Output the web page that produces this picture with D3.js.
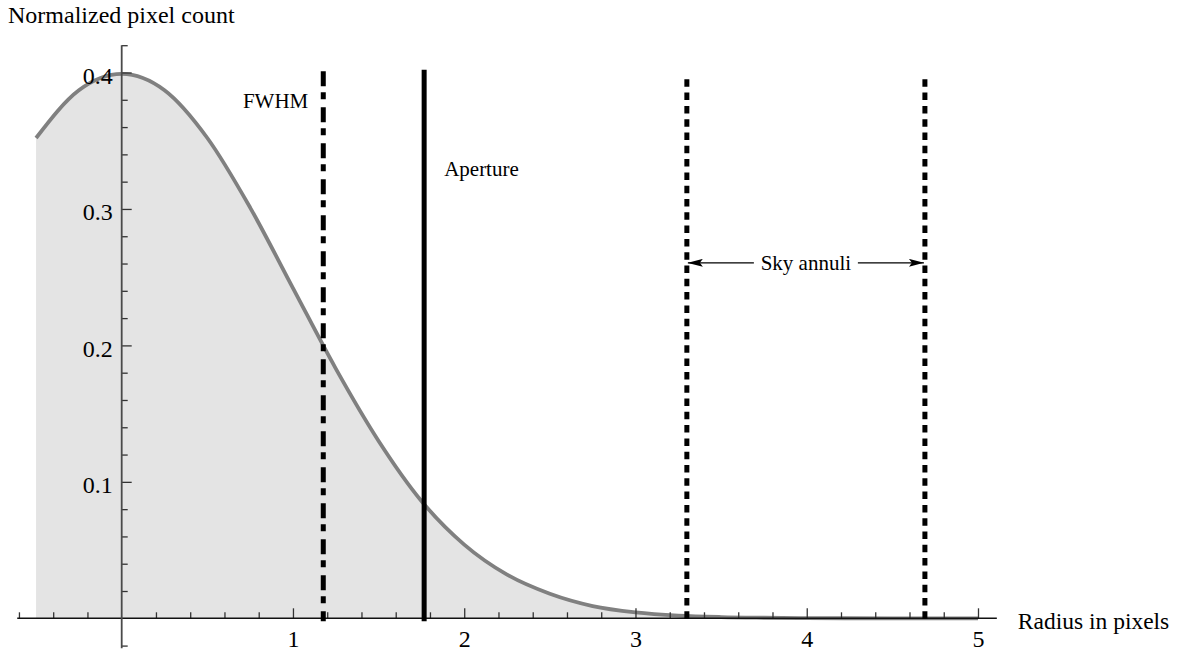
<!DOCTYPE html>
<html>
<head>
<meta charset="utf-8">
<script src="https://cdn.jsdelivr.net/npm/d3@7"></script>
<style>
  html, body { margin: 0; padding: 0; background: #fff; }
  svg { display: block; font-family: "Liberation Serif", "Times New Roman", serif; }
</style>
</head>
<body>
<svg id="chart" width="1177" height="659"></svg>
<script>
// Radial profile of a star (normalized pixel count vs. radius)
const profileRadius = [-0.5, -0.25, 0, 0.25, 0.5, 0.75, 1.0, 1.25, 1.5, 1.75, 2.0,
                       2.25, 2.5, 2.75, 3.0, 3.25, 3.5, 3.75, 4.0, 4.5, 5.0];
const profileCount  = [0.352, 0.387, 0.399, 0.387, 0.352, 0.301, 0.242, 0.183, 0.130, 0.086, 0.054,
                       0.032, 0.018, 0.009, 0.0044, 0.0020, 0.0009, 0.0004, 0.0001, 0.0, 0.0];

// Marker radii (pixels)
const fwhmRadius = 1.177;
const apertureRadius = 1.766;
const skyAnnuli = [3.3, 4.69];

// Axis ticks
const xMajorTicks = [1, 2, 3, 4, 5];
const xMinorTicks = [-0.6, -0.4, -0.2, 0.2, 0.4, 0.6, 0.8, 1.2, 1.4, 1.6, 1.8, 2.2, 2.4, 2.6, 2.8,
                     3.2, 3.4, 3.6, 3.8, 4.2, 4.4, 4.6, 4.8];
const yMajorTicks = [0.1, 0.2, 0.3, 0.4];
const yMinorTicks = [-0.02, 0.02, 0.04, 0.06, 0.08, 0.12, 0.14, 0.16, 0.18, 0.22, 0.24, 0.26, 0.28,
                     0.32, 0.34, 0.36, 0.38, 0.42];

const svg = d3.select("#chart");

const x = d3.scaleLinear().domain([0, 5]).range([121.7, 978]);
const y = d3.scaleLinear().domain([0, 0.4]).range([618.3, 72.5]);

const pts = profileRadius.map((r, i) => ({ r, v: profileCount[i] }));

// Shaded area under the profile
svg.append("path")
  .datum(pts)
  .attr("fill", "#e4e4e4")
  .attr("d", d3.area()
    .x(d => x(d.r))
    .y0(y(0))
    .y1(d => y(d.v))
    .curve(d3.curveMonotoneX));

// Profile curve
svg.append("path")
  .datum(pts)
  .attr("fill", "none")
  .attr("stroke", "#808080")
  .attr("stroke-width", 3.8)
  .attr("d", d3.line()
    .x(d => x(d.r))
    .y(d => y(d.v))
    .curve(d3.curveMonotoneX));

// ---- X axis ----
const xAxisG = svg.append("g").attr("transform", `translate(0,${y(0)})`);
xAxisG.append("g")
  .call(d3.axisTop(x).tickValues(xMinorTicks).tickSize(6).tickFormat(""))
  .call(g => g.select(".domain").remove())
  .call(g => g.selectAll("line").attr("stroke", "#333").attr("stroke-width", 1.3));
xAxisG.append("g")
  .call(d3.axisTop(x).tickValues(xMajorTicks).tickSize(10).tickFormat(""))
  .call(g => g.select(".domain").remove())
  .call(g => g.selectAll("line").attr("stroke", "#333").attr("stroke-width", 1.3));
xAxisG.append("g")
  .call(d3.axisBottom(x).tickValues(xMajorTicks).tickSize(0).tickPadding(12).tickFormat(d3.format("d")))
  .call(g => g.select(".domain").remove())
  .call(g => g.selectAll("text")
    .attr("font-family", "Liberation Serif, serif")
    .attr("font-size", 24)
    .attr("fill", "#000"));
xAxisG.append("line")
  .attr("x1", x(-0.61)).attr("x2", x(5.11))
  .attr("stroke", "#111").attr("stroke-width", 1.4);

// ---- Y axis ----
const yAxisG = svg.append("g").attr("transform", `translate(${x(0)},0)`);
yAxisG.append("g")
  .call(d3.axisRight(y).tickValues(yMinorTicks).tickSize(6).tickFormat(""))
  .call(g => g.select(".domain").remove())
  .call(g => g.selectAll("line").attr("stroke", "#333").attr("stroke-width", 1.3));
yAxisG.append("g")
  .call(d3.axisRight(y).tickValues(yMajorTicks).tickSize(10).tickFormat(""))
  .call(g => g.select(".domain").remove())
  .call(g => g.selectAll("line").attr("stroke", "#333").attr("stroke-width", 1.3));
yAxisG.append("g")
  .call(d3.axisLeft(y).tickValues(yMajorTicks).tickSize(0).tickPadding(9).tickFormat(d3.format(".1f")))
  .call(g => g.select(".domain").remove())
  .call(g => g.selectAll("text")
    .attr("font-family", "Liberation Serif, serif")
    .attr("font-size", 24)
    .attr("dy", "0.45em")
    .attr("fill", "#000"));
yAxisG.append("line")
  .attr("y1", y(-0.022)).attr("y2", y(0.42))
  .attr("stroke", "#4a4a4a").attr("stroke-width", 1.8);

// Axis titles
svg.append("text")
  .attr("x", 8).attr("y", 23)
  .attr("font-size", 24)
  .text("Normalized pixel count");
svg.append("text")
  .attr("x", x(5.11) + 21).attr("y", y(0) + 11)
  .attr("font-size", 23.5)
  .text("Radius in pixels");

// ---- Marker lines ----
const base = y(0) + 3;
svg.append("line")
  .attr("x1", x(fwhmRadius)).attr("x2", x(fwhmRadius))
  .attr("y1", y(0.401)).attr("y2", base)
  .attr("stroke", "#000").attr("stroke-width", 5)
  .attr("stroke-dasharray", "15,6,7,8");
svg.append("line")
  .attr("x1", x(apertureRadius)).attr("x2", x(apertureRadius))
  .attr("y1", y(0.402)).attr("y2", base)
  .attr("stroke", "#000").attr("stroke-width", 5);
svg.selectAll("line.sky")
  .data(skyAnnuli)
  .join("line")
  .attr("class", "sky")
  .attr("x1", d => x(d)).attr("x2", d => x(d))
  .attr("y1", y(0.395)).attr("y2", base)
  .attr("stroke", "#000").attr("stroke-width", 5)
  .attr("stroke-dasharray", "7.5,5.8");

// Marker labels
svg.append("text")
  .attr("x", x(fwhmRadius) - 15).attr("y", y(0.374))
  .attr("text-anchor", "end")
  .attr("font-size", 21)
  .text("FWHM");
svg.append("text")
  .attr("x", x(apertureRadius) + 20).attr("y", y(0.324))
  .attr("text-anchor", "start")
  .attr("font-size", 21)
  .text("Aperture");

// Sky annuli label with double arrow
const skyMid = (x(skyAnnuli[0]) + x(skyAnnuli[1])) / 2;
const arrowY = y(0.2605);
svg.append("text")
  .attr("x", skyMid).attr("y", arrowY)
  .attr("dy", "0.33em")
  .attr("text-anchor", "middle")
  .attr("font-size", 21)
  .text("Sky annuli");

svg.append("defs").append("marker")
  .attr("id", "head")
  .attr("viewBox", "0 0 15 8")
  .attr("refX", 15).attr("refY", 4)
  .attr("markerWidth", 15).attr("markerHeight", 8)
  .attr("markerUnits", "userSpaceOnUse")
  .attr("orient", "auto")
  .append("path")
  .attr("d", "M0,0 L15,4 L0,8 L3,4 Z")
  .attr("fill", "#000");

svg.append("line")
  .attr("x1", skyMid - 52).attr("x2", x(skyAnnuli[0]) + 1)
  .attr("y1", arrowY).attr("y2", arrowY)
  .attr("stroke", "#000").attr("stroke-width", 1.3)
  .attr("marker-end", "url(#head)");
svg.append("line")
  .attr("x1", skyMid + 52).attr("x2", x(skyAnnuli[1]) - 1)
  .attr("y1", arrowY).attr("y2", arrowY)
  .attr("stroke", "#000").attr("stroke-width", 1.3)
  .attr("marker-end", "url(#head)");
</script>
</body>
</html>
